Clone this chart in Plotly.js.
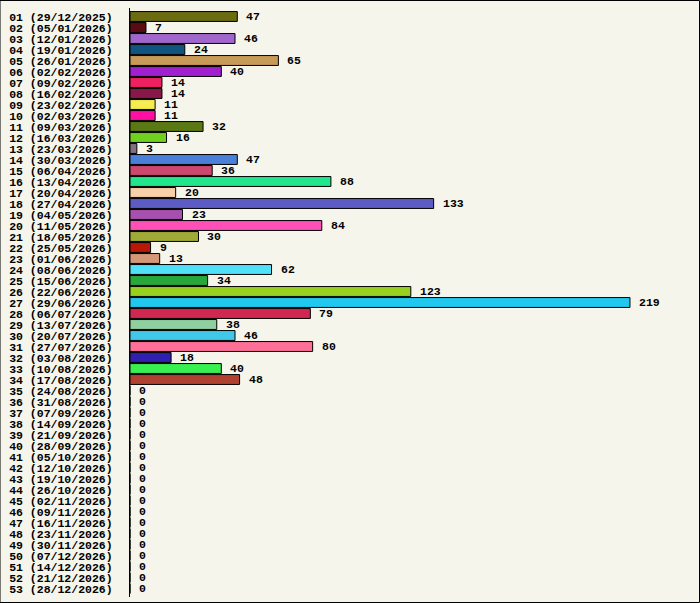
<!DOCTYPE html><html><head><script src="https://cdn.plot.ly/plotly-3.0.1.min.js"></script>
<style>body{margin:0}#c{width:700px;height:603px}</style></head><body><div id="c"></div><script>
const dates=["29/12/2025","05/01/2026","12/01/2026","19/01/2026","26/01/2026","02/02/2026","09/02/2026","16/02/2026","23/02/2026","02/03/2026","09/03/2026","16/03/2026","23/03/2026","30/03/2026","06/04/2026","13/04/2026","20/04/2026","27/04/2026","04/05/2026","11/05/2026","18/05/2026","25/05/2026","01/06/2026","08/06/2026","15/06/2026","22/06/2026","29/06/2026","06/07/2026","13/07/2026","20/07/2026","27/07/2026","03/08/2026","10/08/2026","17/08/2026","24/08/2026","31/08/2026","07/09/2026","14/09/2026","21/09/2026","28/09/2026","05/10/2026","12/10/2026","19/10/2026","26/10/2026","02/11/2026","09/11/2026","16/11/2026","23/11/2026","30/11/2026","07/12/2026","14/12/2026","21/12/2026","28/12/2026"];
const values=[47,7,46,24,65,40,14,14,11,11,32,16,3,47,36,88,20,133,23,84,30,9,13,62,34,123,219,79,38,46,80,18,40,48,0,0,0,0,0,0,0,0,0,0,0,0,0,0,0,0,0,0,0];
const colors=["#6b6b12","#5a0c14","#a066cc","#10557f","#c89a58","#a020d0","#ee2060","#881848","#f5ec50","#ff10a0","#5a7814","#70d020","#807080","#4a80d8","#cc4870","#22e68c","#f8d0a8","#5c5cc4","#a850b0","#ff50b8","#a0aa36","#b81808","#d49878","#50e0f8","#28a83c","#98d020","#20c8f0","#d02850","#90d0a0","#40c8e8","#ff7098","#3020b0","#38f050","#b04030"];
const labels=dates.map((d,i)=>String(i+1).padStart(2,"0")+" ("+d+")");
const cols=values.map((v,i)=>colors[i]||"#888");
const font={family:"Liberation Mono",size:11.5,color:"#000"};
const ann=labels.map((l,i)=>({x:values[i],y:l,text:"<b>"+values[i]+"</b>",showarrow:false,xanchor:"left",xshift:7,font:font}));
Plotly.newPlot("c",[{type:"bar",orientation:"h",x:values,y:labels,marker:{color:cols,line:{color:"#000",width:1}},hoverinfo:"none"}],{
width:700,height:603,margin:{l:130,r:10,t:8,b:6},paper_bgcolor:"#f5f5eb",plot_bgcolor:"#f5f5eb",bargap:0.1,showlegend:false,
xaxis:{range:[0,245.3],showgrid:false,zeroline:false,showticklabels:false,ticks:""},
yaxis:{autorange:"reversed",tickmode:"array",tickvals:labels,ticktext:labels.map(l=>"<b>"+l+"</b>"),tickfont:font,showline:true,linecolor:"#000",linewidth:1,ticks:"",ticklen:0,ticklabelstandoff:14,showgrid:false},
annotations:ann,
shapes:[{type:"rect",xref:"paper",yref:"paper",x0:-130/560,x1:1+9.5/560,y0:-5.5/589,y1:1+7.5/589,line:{color:"#000",width:1}}]
},{staticPlot:true});
</script></body></html>
